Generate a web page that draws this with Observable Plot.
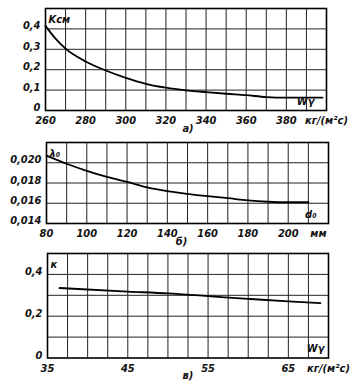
<!DOCTYPE html>
<html><head><meta charset="utf-8">
<script src="https://cdn.jsdelivr.net/npm/d3@7"></script>
<script src="https://cdn.jsdelivr.net/npm/@observablehq/plot@0.6"></script>
<style>
body{margin:0;background:#fff;}
#c{position:relative;width:359px;height:385px;overflow:hidden;}
#c svg{position:absolute;left:0;display:block;overflow:visible;}
</style></head><body><div id="c"></div>
<script>
// ---- panel а) : K_см vs W_γ
const aX = [260, 265, 270, 280, 290, 300, 310, 320, 330, 340, 350, 360, 370, 380, 390, 398];
const aY = [0.415, 0.352, 0.303, 0.24, 0.196, 0.16, 0.131, 0.112, 0.099, 0.09, 0.082, 0.075, 0.066, 0.063, 0.063, 0.063];
const aXTicks = [260, 280, 300, 320, 340, 360, 380, 400];
const aXTickLabels = ["260", "280", "300", "320", "340", "360", "380", "кг/(м²с)"];
const aXGrid = [270, 280, 290, 300, 310, 320, 330, 340, 350, 360, 370, 380, 390];
const aYTicks = [0, 0.1, 0.2, 0.3, 0.4];
const aYTickLabels = ["0", "0,1", "0,2", "0,3", "0,4"];
const aYGrid = [0.1, 0.2, 0.3, 0.4];

// ---- panel б) : λ0 vs d0
const bX = [80, 90, 100, 110, 120, 130, 140, 150, 160, 170, 180, 190, 200, 210];
const bY = [0.0207, 0.0199, 0.0192, 0.0186, 0.0181, 0.01757, 0.0172, 0.01693, 0.0167, 0.0165, 0.01628, 0.01615, 0.0161, 0.0161];
const bXTicks = [80, 100, 120, 140, 160, 180, 200, 215];
const bXTickLabels = ["80", "100", "120", "140", "160", "180", "200", "мм"];
const bXGrid = [90, 100, 110, 120, 130, 140, 150, 160, 170, 180, 190, 200, 210];
const bYTicks = [0.014, 0.016, 0.018, 0.020];
const bYTickLabels = ["0,014", "0,016", "0,018", "0,020"];
const bYGrid = [0.016, 0.018, 0.020];

// ---- panel в) : к vs W_γ
const cX = [36.5, 45, 50, 55, 60, 65, 69];
const cY = [0.335, 0.318, 0.309, 0.296, 0.283, 0.271, 0.263];
const cXTicks = [35, 45, 55, 65, 70];
const cXTickLabels = ["35", "45", "55", "65", "кг/(м²с)"];
const cXGrid = [37.5, 40, 42.5, 45, 47.5, 50, 52.5, 55, 57.5, 60, 62.5, 65, 67.5];
const cYTicks = [0, 0.2, 0.4];
const cYTickLabels = ["0", "0,2", "0,4"];
const cYGrid = [0.1, 0.2, 0.3, 0.4];

const FONT = '"Liberation Sans Narrow","DejaVu Sans Condensed","Liberation Sans",sans-serif';

function panel(o) {
  const pts = o.xs.map((x, i) => ({x, y: o.ys[i]}));
  const xl = new Map(o.xTicks.map((t, i) => [t, o.xLabels[i]]));
  const yl = new Map(o.yTicks.map((t, i) => [t, o.yLabels[i]]));
  const svg = Plot.plot({
    width: 359, height: o.height,
    marginTop: o.mt, marginBottom: o.mb, marginLeft: o.ml, marginRight: o.mr,
    x: {domain: o.xDomain},
    y: {domain: o.yDomain},
    style: {fontFamily: FONT, fontSize: "11px", fontStyle: "italic", fontWeight: "bold", color: "#111", background: "#fff"},
    marks: [
      Plot.ruleX(o.xGrid, {stroke: "#222", strokeWidth: 1}),
      Plot.ruleY(o.yGrid, {stroke: "#222", strokeWidth: 1}),
      Plot.line(pts, {x: "x", y: "y", curve: "monotone-x", stroke: "#000", strokeWidth: 1.8}),
      Plot.frame({stroke: "#000", strokeWidth: 1.6}),
      Plot.axisX(o.xTicks, {tickSize: 0, tickPadding: 6, tickFormat: d => xl.get(d), label: null}),
      Plot.axisY(o.yTicks, {tickSize: 0, tickPadding: 5, dy: -3, tickFormat: d => yl.get(d), label: null}),
      Plot.text([o.name], {frameAnchor: "top-left", textAnchor: "start", dx: 3, dy: 7}),
      Plot.text([o.vname], {frameAnchor: "bottom-right", textAnchor: "end", dx: o.vdx, dy: -6}),
      Plot.text([{x: o.capX, t: o.cap}], {x: "x", text: "t", frameAnchor: "bottom", dy: 21})
    ]
  });
  svg.style.top = o.top + "px";
  document.getElementById("c").appendChild(svg);
}

panel({top: 0, height: 140, mt: 8, mb: 30, ml: 45, mr: 33,
  xDomain: [260, 400], yDomain: [0, 0.5],
  xs: aX, ys: aY, xTicks: aXTicks, xLabels: aXTickLabels, xGrid: aXGrid,
  yTicks: aYTicks, yLabels: aYTickLabels, yGrid: aYGrid,
  name: "Kсм", vname: "Wγ", vdx: -12, cap: "а)", capX: 331});

panel({top: 140, height: 110, mt: 2, mb: 27, ml: 46, mr: 31,
  xDomain: [80, 220], yDomain: [0.014, 0.022],
  xs: bX, ys: bY, xTicks: bXTicks, xLabels: bXTickLabels, xGrid: bXGrid,
  yTicks: bYTicks, yLabels: bYTickLabels, yGrid: bYGrid,
  name: "λ₀", vname: "d₀", vdx: -12, cap: "б)", capX: 147});

panel({top: 250, height: 135, mt: 3, mb: 27.5, ml: 47, mr: 31,
  xDomain: [35, 70], yDomain: [0, 0.5],
  xs: cX, ys: cY, xTicks: cXTicks, xLabels: cXTickLabels, xGrid: cXGrid,
  yTicks: cYTicks, yLabels: cYTickLabels, yGrid: cYGrid,
  name: "к", vname: "Wγ", vdx: -4, cap: "в)", capX: 52.5});
</script></body></html>
